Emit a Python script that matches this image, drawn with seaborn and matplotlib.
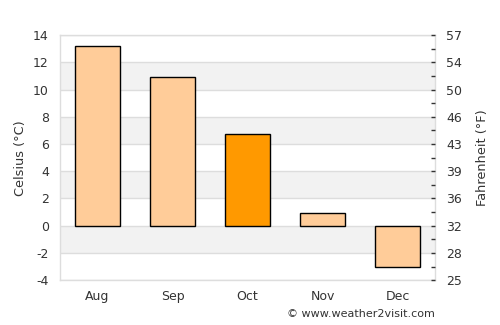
import matplotlib
matplotlib.use("Agg")
import matplotlib.pyplot as plt
import seaborn as sns
import numpy as np

months = ["Aug", "Sep", "Oct", "Nov", "Dec"]
celsius = [13.2, 10.9, 6.7, 0.9, -3.0]
bar_colors = ["#FFCC99", "#FFCC99", "#FF9900", "#FFCC99", "#FFCC99"]
c_ticks = [-4, -2, 0, 2, 4, 6, 8, 10, 12, 14]
f_labels = ["25", "28", "32", "36", "39", "43", "46", "50", "54", "57"]
bands = [(-2, 0), (2, 4), (6, 8), (10, 12)]

sns.set_style("white")
plt.rcParams["font.family"] = ["DejaVu Sans"]
txt = "#333333"

fig = plt.figure(figsize=(5, 3.25), dpi=100)
ax = fig.add_axes([0.12, 0.138, 0.75, 0.754])

for lo, hi in bands:
    ax.axhspan(lo, hi, color="#F2F2F2", zorder=0, lw=0)
for t in c_ticks:
    ax.axhline(t, color="#DDDDDD", lw=1, zorder=0.5)

sns.barplot(x=months, y=celsius, hue=months, palette=bar_colors, legend=False,
            edgecolor="black", linewidth=1, width=0.6, saturation=1, ax=ax, zorder=2)

ax.set_xlim(-0.5, 4.5)
ax.set_ylim(-4, 14)
ax.set_yticks(c_ticks)
ax.set_yticklabels([str(t) for t in c_ticks])
ax.tick_params(axis="y", length=0, labelsize=9, colors=txt, pad=8)
ax.tick_params(axis="x", length=0, labelsize=9, colors=txt, pad=7)
ax.set_ylabel("Celsius (°C)", fontsize=9.3, color=txt, labelpad=4)
ax.set_xlabel("")
for s in ax.spines.values():
    s.set_color("#DDDDDD")
    s.set_linewidth(1)

ax2 = ax.twinx()
ax2.set_ylim(-4, 14)
ax2.set_yticks(c_ticks)
ax2.set_yticklabels(f_labels)
ax2.set_yticks(np.arange(-3, 14, 2), minor=True)
ax2.tick_params(axis="y", which="both", direction="in", length=3, width=1,
                color="#333333", labelsize=9, labelcolor=txt, pad=8)
ax2.set_ylabel("Fahrenheit (°F)", fontsize=9.3, color=txt, labelpad=10)
for s in ax2.spines.values():
    s.set_visible(False)

fig.text(0.87, 0.035, "© www.weather2visit.com", ha="right", va="center",
         fontsize=8, color=txt)

fig.savefig("out.png", dpi=100)
